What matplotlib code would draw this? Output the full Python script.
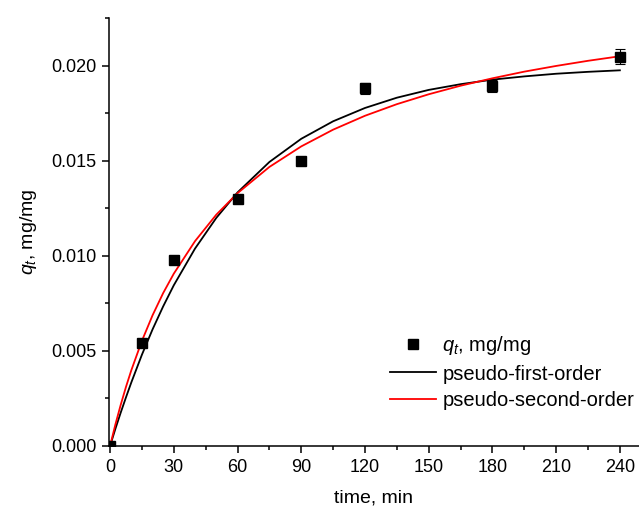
import matplotlib
matplotlib.use('Agg')
import matplotlib.pyplot as plt
from matplotlib.ticker import MultipleLocator, FormatStrFormatter

plt.rcParams['font.family'] = ['Liberation Sans', 'DejaVu Sans']
plt.rcParams['mathtext.fontset'] = 'custom'
plt.rcParams['mathtext.rm'] = 'Liberation Sans'
plt.rcParams['mathtext.it'] = 'Liberation Sans:italic'

# Experimental points (time in min, q_t in mg/mg) with error bars
t_exp = [0, 15, 30, 60, 90, 120, 180, 240]
q_exp = [0.0, 0.00542, 0.00979, 0.01296, 0.01498, 0.01880, 0.01893, 0.02047]
q_err = [0.0, 0.0002, 0.0002, 0.0002, 0.0002, 0.0003, 0.0003, 0.0004]

# Fitted curves
t_fit = [0, 2.5, 5, 7.5, 10, 15, 20, 25, 30, 40, 50, 60, 75, 90, 105, 120, 135, 150,
         165, 180, 195, 210, 225, 240]
q_pfo = [0.0, 0.00090, 0.00175, 0.00256, 0.00334, 0.00480, 0.00613, 0.00734, 0.00845,
         0.01038, 0.01199, 0.01333, 0.01493, 0.01615, 0.01707, 0.01777, 0.01831, 0.01872,
         0.01902, 0.01926, 0.01943, 0.01957, 0.01967, 0.01975]
q_pso = [0.0, 0.00113, 0.00216, 0.00311, 0.00398, 0.00553, 0.00687, 0.00804, 0.00906,
         0.01077, 0.01216, 0.01329, 0.01467, 0.01575, 0.01663, 0.01736, 0.01797, 0.01849,
         0.01894, 0.01933, 0.01968, 0.01998, 0.02025, 0.02049]

x_ticks = [0, 30, 60, 90, 120, 150, 180, 210, 240]

fig = plt.figure(figsize=(6.39, 5.15), dpi=100)
ax = fig.add_axes([109 / 639, 1 - 446 / 515, 1 - 109 / 639, (446 - 18) / 515])

pts = ax.errorbar(t_exp, q_exp, yerr=q_err, fmt='s', color='black', markersize=6.5,
                  ecolor='black', elinewidth=0.8, capsize=3.5, capthick=0.8, zorder=3)
l1, = ax.plot(t_fit, q_pfo, color='black', linewidth=1.3)
l2, = ax.plot(t_fit, q_pso, color='#ff0000', linewidth=1.3)

ax.set_xlim(-0.5, 249)
ax.set_ylim(0, 0.0225)
ax.set_xticks(x_ticks)
ax.xaxis.set_minor_locator(MultipleLocator(15))
ax.yaxis.set_major_locator(MultipleLocator(0.005))
ax.yaxis.set_minor_locator(MultipleLocator(0.0025))
ax.yaxis.set_major_formatter(FormatStrFormatter('%.3f'))

for side in ['top', 'right']:
    ax.spines[side].set_visible(False)
for side in ['left', 'bottom']:
    ax.spines[side].set_linewidth(1.1)

ax.tick_params(which='major', direction='out', length=5, width=1.1, labelsize=13, pad=4)
ax.tick_params(which='minor', direction='out', length=3, width=1.1)

ax.set_xlabel('time, min', fontsize=14, labelpad=10)
ax.set_ylabel(r'$q_t$, mg/mg', fontsize=14, labelpad=9)

ax.legend([pts[0], l1, l2], [r'$q_t$, mg/mg', 'pseudo-first-order', 'pseudo-second-order'],
          loc='center', bbox_to_anchor=(512 / 639, 1 - 372 / 515),
          bbox_transform=fig.transFigure, frameon=False, fontsize=14.5,
          handlelength=2.3, handletextpad=0.3, labelspacing=0.35)

fig.savefig('out.png', dpi=100)
